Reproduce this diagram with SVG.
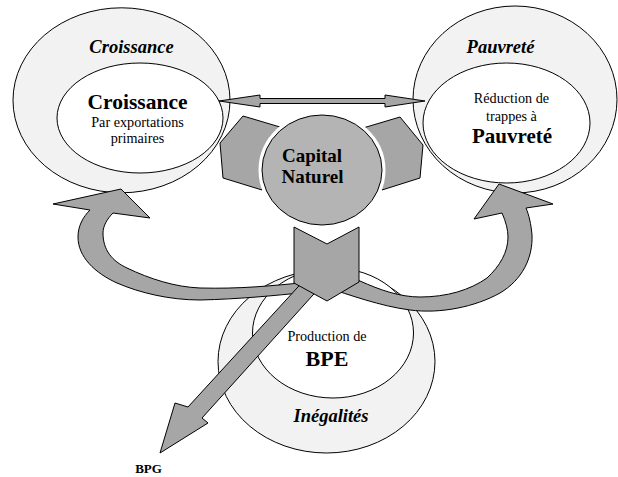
<svg xmlns="http://www.w3.org/2000/svg" width="618" height="477" viewBox="0 0 618 477">
<style>
.outer{fill:#f2f2f2;stroke:#000;stroke-width:1}
.inner{fill:#fff;stroke:#000;stroke-width:1}
.shape{fill:#a6a6a6;stroke:#000;stroke-width:1;stroke-linejoin:miter}
text{font-family:"Liberation Serif","Times New Roman",serif;fill:#000;text-anchor:middle}
.ti{font-style:italic;font-weight:bold;font-size:18.5px}
.tb{font-weight:bold}
.tr{font-size:14.2px}
</style>
<rect width="618" height="477" fill="#fff"/>
<g id="croissance">
<ellipse class="outer" cx="121.5" cy="100.3" rx="108.5" ry="92.5"/>
<ellipse class="inner" cx="140" cy="118" rx="83" ry="55"/>
<text class="ti" x="131.5" y="52.5">Croissance</text>
<text class="tb" x="137.5" y="109" font-size="21.5">Croissance</text>
<text class="tr" x="137.5" y="126.7">Par exportations</text>
<text class="tr" x="137.5" y="142.7">primaires</text>
</g>
<g id="pauvrete">
<ellipse class="outer" cx="515" cy="99.5" rx="102" ry="93.5"/>
<ellipse class="inner" cx="506.5" cy="123" rx="83.5" ry="60"/>
<text class="ti" x="500.5" y="53">Pauvreté</text>
<text class="tr" x="511.5" y="103.3">Réduction de</text>
<text class="tr" x="511.5" y="121">trappes à</text>
<text class="tb" x="512" y="142.7" font-size="21">Pauvreté</text>
</g>
<g id="inegalites">
<ellipse class="outer" cx="326.5" cy="361.5" rx="108.5" ry="91.5"/>
<ellipse class="inner" cx="333" cy="333" rx="80.5" ry="65"/>
<text class="tr" x="327" y="341">Production de</text>
<text class="tb" x="327" y="365.7" font-size="22">BPE</text>
<text class="ti" x="331" y="421.7" font-size="18.8">Inégalités</text>
</g>
<g id="connectors">
<polygon id="double-arrow" class="shape" points="219,101 260,95 260,98.5 385,98.5 385,95 425,101 385,107 385,103.5 260,103.5 260,107"/>
<polygon id="pentagon-left" class="shape" points="243,116 280,127 262,190 223,178 220,143"/>
<polygon id="pentagon-right" class="shape" points="363,128 400,117 423,145 420,178 382,190"/>
<path id="arrow-croissance" class="shape" d="M310 292 C270 296 240 299 200 300 C170 300 140 293 117 283 C95 273 78 257 78 237 C78 226 83 217 90 210 L53 204 L121 189 L150 218 L113 213 C107 219 103 226 103 233 C103 250 112 261 127 268 C150 279 175 287 200 288 C240 289 270 286 310 282 Z"/>
<path id="arrow-pauvrete" class="shape" d="M325 287 C350 295 380 306 410 310 C440 314 475 307 500 293 C522 280 533 258 532 235 C531 224 529 215 526 208 L553 204 L499 184 L474 219 L502 213 C506 222 508 230 508 237 C508 252 500 266 487 278 C470 290 447 297 420 297 C400 297 380 290 360 281 L340 274 Z"/>
<polygon id="arrow-bpg" class="shape" points="308,276 188,407 175,403 160,453 208,423 202,418 322,285"/>
<polygon id="chevron" class="shape" points="294,227 327,244 359,227 359,282 327,301 294,283"/>
</g>
<g id="capital">
<ellipse cx="322" cy="170" rx="60" ry="55" fill="none" stroke="#fff" stroke-width="7"/>
<ellipse cx="322" cy="170" rx="60" ry="55" fill="#b4b4b4" stroke="#000" stroke-width="1"/>
<text class="tb" x="312" y="161.7" font-size="19">Capital</text>
<text class="tb" x="312.5" y="183.3" font-size="19">Naturel</text>
</g>
<g id="bpg">
<text class="tb" x="148.5" y="473" font-size="13">BPG</text>
</g>
</svg>
